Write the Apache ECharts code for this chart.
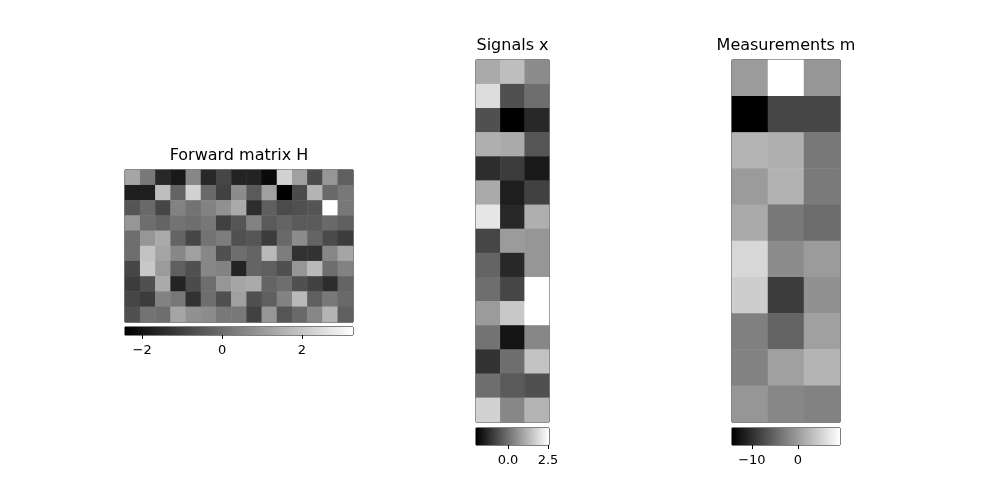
<!DOCTYPE html>
<html><head><meta charset="utf-8">
<script src="https://cdn.jsdelivr.net/npm/echarts@6/dist/echarts.min.js"></script>
<style>html,body{margin:0;background:#fff}#c{width:1000px;height:500px}</style>
</head><body><div id="c"></div>
<script>
const H = [
[1.26,0.26,-1.53,-1.87,0.59,-1.53,-0.86,-1.65,-1.65,-2.21,2.27,1.15,-0.75,0.93,-0.30],
[-1.76,-1.76,1.82,-0.19,2.27,-0.08,-0.97,0.70,-0.42,1.15,-2.43,-0.75,1.60,-0.08,0.26],
[-0.53,-0.08,-0.86,0.48,0.14,0.48,0.82,1.38,-1.42,-0.30,-0.75,-0.64,-0.53,3.28,0.26],
[0.93,0.03,-0.19,0.14,0.03,0.26,-0.97,-0.53,0.48,-0.42,-0.19,-0.42,-0.42,-0.08,-0.30],
[0.03,0.93,1.38,-0.19,-0.86,0.14,0.37,-0.64,-0.53,-1.09,-0.08,0.70,-0.19,-0.75,-1.09],
[0.03,1.94,1.26,0.59,1.15,0.59,-0.64,0.03,-0.19,1.71,0.37,-1.31,-1.31,0.59,1.26],
[-0.86,2.05,1.04,-0.30,-0.64,0.59,0.48,-1.65,-0.19,-0.30,-0.64,0.93,1.71,0.03,0.48],
[-1.09,-0.64,1.38,-1.65,-0.75,0.03,0.93,1.26,1.38,-0.19,0.03,-0.64,-0.97,-1.42,-0.19],
[-0.86,-1.09,0.48,0.26,-1.31,0.03,-0.64,1.15,-0.64,-0.30,0.48,1.71,-0.30,0.26,-0.08],
[-0.64,0.14,0.03,1.26,0.82,0.70,0.26,0.26,-0.97,0.93,-0.53,-0.08,0.59,1.60,-0.30]
];
const X = [
[1.04,1.40,0.50],[1.93,-0.57,-0.03],[-0.57,-2.0,-1.28],[1.13,1.04,-0.48],[-1.20,-0.93,-1.55],
[1.04,-1.46,-0.84],[2.11,-1.28,1.13],[-0.75,0.77,0.68],[-0.21,-1.28,0.68],[-0.03,-0.75,2.56],
[0.77,1.58,2.56],[0.06,-1.64,0.41],[-1.11,-0.03,1.49],[-0.03,-0.39,-0.57],[1.75,0.41,1.22]
];
const M = [
[-0.07,9.1,-0.53],[-14.3,-7.87,-7.87],[2.22,1.77,-3.28],[-0.07,2.04,-3.1],[1.31,-3.28,-4.39],
[5.44,-1.45,-0.07],[4.52,-8.79,-0.99],[-2.55,-5.12,0.39],[-2.37,0.39,2.22],[-0.53,-1.91,-2.37]
];
const titles = ['Forward matrix H','Signals x','Measurements m'];
const hTicks = [-2,0,2], xTicks = [0,2.5], mTicks = [-10,0];

function rng(a){const f=a.flat();return [Math.min(...f),Math.max(...f)];}
const mats=[H,X,M], ticks=[hTicks,xTicks,mTicks];
const fmts=[v=>String(v), v=>v.toFixed(1), v=>String(v)];
const boxes=[{l:125,t:170,w:228,h:152,cb:327,ch:8},{l:476,t:60,w:73,h:362,cb:428,ch:17},{l:732,t:60,w:108,h:362,cb:428,ch:17}];
const font='DejaVu Sans';
const grid=[],xAxis=[],yAxis=[],series=[],visualMap=[],graphic=[];
mats.forEach((m,i)=>{
  const b=boxes[i];const [mn,mx]=rng(m);
  grid.push({left:b.l,top:b.t,width:b.w,height:b.h,show:true,borderColor:'#000',borderWidth:1,backgroundColor:'transparent'});
  grid.push({left:b.l,top:b.cb,width:b.w,height:b.ch,show:true,borderColor:'#000',borderWidth:1,backgroundColor:'transparent'});
  const nr=m.length,nc=m[0].length;
  xAxis.push({type:'category',gridIndex:2*i,data:[...Array(nc).keys()],show:false});
  yAxis.push({type:'category',gridIndex:2*i,data:[...Array(nr).keys()],inverse:true,show:false});
  xAxis.push({type:'value',gridIndex:2*i+1,min:mn,max:mx,splitLine:{show:false},axisLine:{show:false},
    axisTick:{show:true,customValues:ticks[i],length:4,lineStyle:{color:'#000'}},
    axisLabel:{customValues:ticks[i],color:'#000',fontFamily:font,fontSize:13,margin:9,formatter:v=>fmts[i](v).replace('-','\u2212')}});
  yAxis.push({type:'value',gridIndex:2*i+1,min:0,max:1,show:false});
  const d=[];m.forEach((r,ri)=>r.forEach((v,ci)=>d.push([ci,ri,v])));
  series.push({type:'heatmap',xAxisIndex:2*i,yAxisIndex:2*i,data:d,itemStyle:{borderWidth:0}});
  visualMap.push({show:false,seriesIndex:2*i,min:mn,max:mx,dimension:2,inRange:{color:['#000000','#ffffff']}});
  series.push({type:'custom',xAxisIndex:2*i+1,yAxisIndex:2*i+1,data:[[mn,mx]],
    renderItem:(p,api)=>{const a=api.coord([api.value(0),0]),c=api.coord([api.value(1),1]);
      return {type:'rect',shape:{x:a[0],y:c[1],width:c[0]-a[0],height:a[1]-c[1]},
        style:{fill:new echarts.graphic.LinearGradient(0,0,1,0,[{offset:0,color:'#000'},{offset:1,color:'#fff'}])}};}});
  graphic.push({type:'text',x:b.l+b.w/2,y:b.t-6,style:{text:titles[i],textAlign:'center',textVerticalAlign:'bottom',fontFamily:font,fontSize:16,fill:'#000'}});
});
const ch=echarts.init(document.getElementById('c'));
ch.setOption({animation:false,backgroundColor:'#fff',graphic,grid,xAxis,yAxis,series,visualMap});
</script></body></html>
